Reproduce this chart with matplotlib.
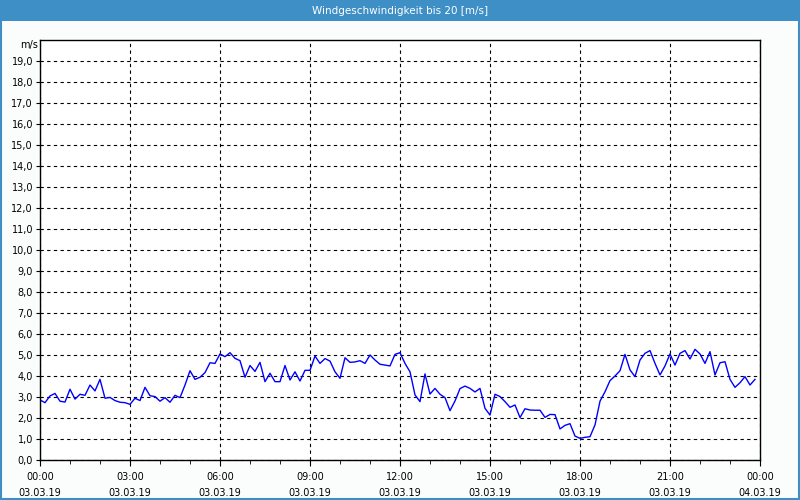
import matplotlib
matplotlib.use("Agg")
import matplotlib.pyplot as plt
import matplotlib.dates as mdates
from matplotlib.patches import Rectangle
import pandas as pd

# 10-minute wind speed values, 03.03.19 00:00 .. 23:50
speed = [2.86, 2.73, 3.05, 3.17, 2.80, 2.76, 3.37, 2.90, 3.13, 3.08,
         3.57, 3.29, 3.84, 2.94, 2.98, 2.83, 2.75, 2.73, 2.65, 2.94,
         2.83, 3.46, 3.06, 3.02, 2.80, 2.97, 2.75, 3.08, 2.97, 3.57,
         4.25, 3.84, 3.94, 4.16, 4.63, 4.60, 5.05, 4.92, 5.11, 4.84,
         4.73, 3.94, 4.50, 4.22, 4.65, 3.73, 4.13, 3.73, 3.73, 4.50,
         3.81, 4.20, 3.76, 4.27, 4.27, 4.95, 4.60, 4.83, 4.71, 4.20,
         3.89, 4.87, 4.65, 4.67, 4.73, 4.60, 5.00, 4.76, 4.56, 4.52,
         4.48, 5.03, 5.11, 4.60, 4.20, 3.10, 2.78, 4.10, 3.14, 3.41,
         3.13, 2.97, 2.35, 2.81, 3.40, 3.52, 3.41, 3.24, 3.41, 2.46,
         2.14, 3.13, 3.02, 2.78, 2.51, 2.62, 2.02, 2.44, 2.38, 2.37,
         2.37, 2.03, 2.17, 2.16, 1.48, 1.65, 1.73, 1.14, 1.03, 1.08,
         1.11, 1.67, 2.80, 3.25, 3.78, 4.00, 4.25, 5.03, 4.29, 3.97,
         4.76, 5.08, 5.21, 4.60, 4.05, 4.48, 5.05, 4.52, 5.08, 5.21,
         4.81, 5.27, 5.05, 4.60, 5.16, 4.05, 4.63, 4.68, 3.84, 3.46,
         3.68, 3.97, 3.57, 3.84]
times = pd.date_range("2019-03-03 00:00", periods=len(speed), freq="10min")
start = pd.Timestamp("2019-03-03 00:00")
end = pd.Timestamp("2019-03-04 00:00")

title = "Windgeschwindigkeit bis 20 [m/s]"
unit = "m/s"

plt.rcParams["font.family"] = ["DejaVu Sans"]
bg = "#fbfdfc"
frame_blue = "#3d8fc6"

fig = plt.figure(figsize=(8, 5), dpi=100, facecolor=bg)

# title bar and window border
fig.patches.append(Rectangle((0, 0.958), 1, 0.042, transform=fig.transFigure,
                             facecolor=frame_blue, edgecolor="none", zorder=0))
fig.patches.append(Rectangle((0.001, 0.002), 0.998, 0.996, transform=fig.transFigure,
                             facecolor="none", edgecolor=frame_blue, lw=1.5, zorder=5))
fig.text(0.5, 0.979, title, color="white", fontsize=7.5, ha="center", va="center")

ax = fig.add_axes([0.05, 0.08, 0.90, 0.84])
ax.set_facecolor("white")
ax.plot(times, speed, color="#0000ff", lw=1)

ax.set_xlim(start, end)
ax.set_ylim(0, 20)
ax.set_yticks(range(0, 20))
ax.set_yticklabels([f"{v},0" for v in range(0, 20)])
ax.xaxis.set_major_locator(mdates.HourLocator(byhour=range(0, 24, 3)))
ax.xaxis.set_minor_locator(mdates.HourLocator())
ax.xaxis.set_major_formatter(mdates.DateFormatter("%H:%M\n%d.%m.%y"))

ax.grid(True, which="major", color="black", linestyle=(0, (3, 3)), lw=0.8)
ax.tick_params(axis="both", which="both", labelsize=7, colors="black")
ax.tick_params(axis="x", which="major", length=4, pad=5)
ax.tick_params(axis="x", which="minor", length=3)
ax.tick_params(axis="y", length=3, pad=2)
for lab in ax.get_xticklabels():
    lab.set_linespacing(1.75)
for s in ax.spines.values():
    s.set_color("black")
    s.set_linewidth(1)

ax.text(-0.003, 0.988, unit, transform=ax.transAxes, fontsize=7,
        ha="right", va="center")

fig.savefig("out.png", dpi=100, facecolor=bg)
